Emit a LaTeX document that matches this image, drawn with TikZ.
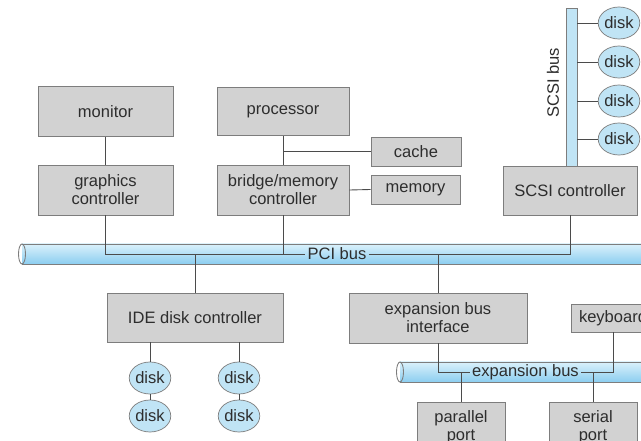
\documentclass[tikz,border=0pt]{standalone}
\usepackage{fontspec}
\setmainfont{Liberation Sans}
\usetikzlibrary{shapes.geometric}

\definecolor{boxgray}{RGB}{210,210,210}
\definecolor{edgegray}{RGB}{125,125,125}
\definecolor{wiregray}{RGB}{75,75,75}
\definecolor{diskblue}{RGB}{192,228,245}
\definecolor{tubetop}{RGB}{218,241,251}
\definecolor{tubebot}{RGB}{140,206,240}
\definecolor{txtgray}{RGB}{45,45,45}

\tikzset{
	devbox/.style={draw=edgegray, fill=boxgray, align=center, inner sep=0pt,
		font=\fontsize{9.4}{10.2}\selectfont, text=txtgray},
	disk/.style={ellipse, draw=edgegray, fill=diskblue, inner sep=0pt,
		minimum width=0.72cm, minimum height=0.64cm,
		font=\fontsize{9.4}{10.2}\selectfont, text=txtgray},
	buslabel/.style={inner sep=1.2pt, font=\fontsize{9.4}{10.2}\selectfont, text=txtgray},
	wire/.style={draw=wiregray, line width=0.5pt},
	tubeline/.style={draw=edgegray, line width=0.5pt}
}

\begin{document}
\begin{tikzpicture}[x=0.2mm, y=-0.2mm]
		\useasboundingbox[fill=white] (0, 0) rectangle (641, 441);

		% PCI busの管を描画
		\shade[top color=tubetop, bottom color=tubebot] (22, 244) rectangle (660, 264);
		\draw[tubeline] (22, 244) -- (660, 244) (22, 264) -- (660, 264);
		\draw[tubeline] (22, 254) ellipse [x radius=0.7mm, y radius=2mm];

		% expansion busの管を描画
		\shade[top color=tubetop, bottom color=tubebot] (400, 362) rectangle (660, 382);
		\draw[tubeline] (400, 362) -- (660, 362) (400, 382) -- (660, 382);
		\draw[tubeline] (400, 372) ellipse [x radius=0.7mm, y radius=2mm];

		% 上の段
		\node[devbox, minimum width=2.7cm, minimum height=1.0cm] (monitor) at (105.5, 111.5) {monitor};
		\node[devbox, minimum width=2.7cm, minimum height=1.0cm] (graphics) at (105.5, 190) {graphics\\controller};
		\node[devbox, minimum width=2.64cm, minimum height=0.96cm] (processor) at (283, 111.5) {processor};
		\node[devbox, minimum width=2.64cm, minimum height=1.0cm] (bridge) at (283, 190) {bridge/memory\\controller};
		\node[devbox, minimum width=1.8cm, minimum height=0.58cm] (cache) at (416, 151.5) {cache};
		\node[devbox, minimum width=1.78cm, minimum height=0.58cm] (memory) at (415.5, 189.5) {memory};
		\node[devbox, minimum width=2.68cm, minimum height=0.98cm] (scsictl) at (570, 190.5) {SCSI controller};

		% SCSI busとdisk
		\node[draw=edgegray, fill=diskblue, inner sep=0pt, minimum width=0.22cm, minimum height=3.16cm] (scsibus) at (571.5, 87) {};
		\node[buslabel, rotate=90] (scsilbl) at (553, 83) {SCSI bus};
		\node[disk] (sdisk1) at (619, 23) {disk};
		\node[disk] (sdisk2) at (619, 62) {disk};
		\node[disk] (sdisk3) at (619, 101) {disk};
		\node[disk] (sdisk4) at (619, 139) {disk};

		% 下の段
		\node[buslabel] (pcilbl) at (337, 254) {PCI bus};
		\node[devbox, minimum width=3.52cm, minimum height=0.98cm] (ide) at (195, 317.5) {IDE disk controller};
		\node[devbox, minimum width=3.56cm, minimum height=1.0cm] (expif) at (438, 318) {expansion bus\\interface};
		\node[devbox, minimum width=1.68cm, minimum height=0.56cm] (keyboard) at (613, 318) {keyboard};
		\node[buslabel] (explbl) at (525.5, 372) {expansion bus};
		\node[devbox, minimum width=1.76cm, minimum height=1.0cm] (parallel) at (461, 427) {parallel\\port};
		\node[devbox, minimum width=1.76cm, minimum height=1.0cm] (serial) at (593, 427) {serial\\port};

		\node[disk] (idisk1) at (150, 378) {disk};
		\node[disk] (idisk2) at (150, 416) {disk};
		\node[disk] (idisk3) at (239, 378) {disk};
		\node[disk] (idisk4) at (239, 416) {disk};

		% 線を描画
		\draw[wire] (monitor) -- (graphics);
		\draw[wire] (processor) -- (bridge);
		\draw[wire] (cache.west) -- (cache.west -| processor.south);
		\draw[wire] (bridge.east) -- (memory.west);
		\draw[wire] (graphics.south) |- (pcilbl.west);
		\draw[wire] (bridge.south) -- (bridge.south |- pcilbl.west);
		\draw[wire] (pcilbl.east) -| (scsictl.south);
		\draw[wire] (ide.north) -- (ide.north |- pcilbl.west);
		\draw[wire] (expif.north) -- (expif.north |- pcilbl.east);

		\draw[wire] (sdisk1.west) -- (sdisk1.west -| scsibus.east);
		\draw[wire] (sdisk2.west) -- (sdisk2.west -| scsibus.east);
		\draw[wire] (sdisk3.west) -- (sdisk3.west -| scsibus.east);
		\draw[wire] (sdisk4.west) -- (sdisk4.west -| scsibus.east);

		\draw[wire] (idisk1) -- (idisk1 |- ide.south);
		\draw[wire] (idisk1) -- (idisk2);
		\draw[wire] (idisk3) -- (idisk3 |- ide.south);
		\draw[wire] (idisk3) -- (idisk4);

		\draw[wire] (expif.south) |- (explbl.west);
		\draw[wire] (explbl.east) -| (keyboard.south);
		\draw[wire] (parallel.north) -- (parallel.north |- explbl.west);
		\draw[wire] (serial.north) -- (serial.north |- explbl.east);
	\end{tikzpicture}
\end{document}
